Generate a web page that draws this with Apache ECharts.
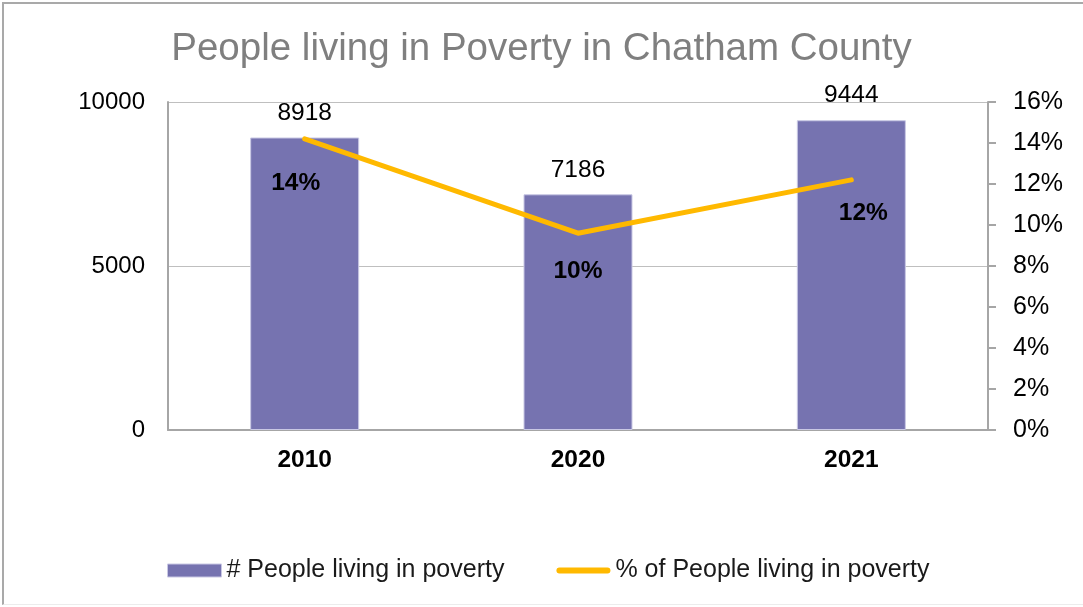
<!DOCTYPE html>
<html>
<head>
<meta charset="utf-8">
<script src="https://cdn.jsdelivr.net/npm/echarts@6/dist/echarts.min.js"></script>
<style>
  html, body { margin: 0; padding: 0; background: #fff; }
  #frame {
    position: absolute; left: 2px; top: 2px; width: 1081px; height: 603px;
    border-top: 2px solid #a9a9a9; border-left: 2px solid #a9a9a9;
    border-bottom: 1px solid #ececec; box-sizing: border-box;
  }
  #chart { position: absolute; left: 0; top: 0; width: 1083px; height: 607px; }
</style>
</head>
<body>
<div id="frame"></div>
<div id="chart"></div>
<script>
// Chatham County poverty figures
const years = ['2010', '2020', '2021'];
const peopleInPoverty = [8918, 7186, 9444];
const povertyRate = [0.142, 0.096, 0.122];
const countTicks = [0, 5000, 10000];
const rateTicks = [0, 0.02, 0.04, 0.06, 0.08, 0.10, 0.12, 0.14, 0.16];

const FONT = 'Liberation Sans, Arial, sans-serif';
const rateLabelOffsets = [[-9, 6], [0, 0], [12, -5]];

const chart = echarts.init(document.getElementById('chart'), null, { renderer: 'canvas' });

chart.setOption({
  animation: false,
  backgroundColor: 'transparent',
  textStyle: { fontFamily: FONT },
  title: {
    text: 'People living in Poverty in Chatham County',
    left: 'center',
    top: 25,
    textStyle: { fontFamily: FONT, fontSize: 38.5, fontWeight: 'normal', color: '#7f7f7f' }
  },
  grid: { left: 168, right: 95, top: 102, bottom: 177 },
  legend: {
    bottom: 19,
    left: 162,
    itemGap: 52,
    itemWidth: 54,
    itemHeight: 13,
    textStyle: { fontFamily: FONT, fontSize: 25, color: '#1a1a1a' },
    data: [
      { name: '# People living in poverty', icon: 'rect', itemStyle: { color: '#7673b0', borderColor: '#c9c8e4', borderWidth: 1 } },
      { name: '% of People living in poverty', icon: 'path://M3,4 L51,4 A3,3 0 0 1 51,10 L3,10 A3,3 0 0 1 3,4 Z' }
    ]
  },
  xAxis: {
    type: 'category',
    data: years,
    axisLine: { show: true, lineStyle: { color: '#a6a6a6', width: 2 } },
    axisTick: { show: false },
    axisLabel: { fontFamily: FONT, fontSize: 24.5, fontWeight: 'bold', color: '#000', margin: 18 }
  },
  yAxis: [
    {
      type: 'value',
      min: countTicks[0],
      max: countTicks[countTicks.length - 1],
      interval: countTicks[1] - countTicks[0],
      axisLine: { show: true, lineStyle: { color: '#a6a6a6', width: 2 } },
      axisTick: { show: false },
      splitLine: { show: true, lineStyle: { color: '#bfbfbf', width: 1 } },
      axisLabel: {
        fontFamily: FONT, fontSize: 24, color: '#000', margin: 23,
        formatter: v => String(v)
      }
    },
    {
      type: 'value',
      min: rateTicks[0],
      max: rateTicks[rateTicks.length - 1],
      interval: rateTicks[1] - rateTicks[0],
      position: 'right',
      axisLine: { show: true, lineStyle: { color: '#a6a6a6', width: 2 } },
      axisTick: { show: true, length: 8, lineStyle: { color: '#a6a6a6', width: 2 } },
      splitLine: { show: false },
      axisLabel: {
        fontFamily: FONT, fontSize: 25, color: '#000', margin: 25,
        formatter: v => Math.round(v * 100) + '%'
      }
    }
  ],
  series: [
    {
      name: '# People living in poverty',
      type: 'bar',
      yAxisIndex: 0,
      data: peopleInPoverty,
      barWidth: 109,
      itemStyle: { color: '#7673b0', borderColor: '#c9c8e4', borderWidth: 1 },
      label: {
        show: true, position: 'top', distance: 12,
        fontFamily: FONT, fontSize: 24.5, color: '#000'
      },
      z: 2
    },
    {
      name: '% of People living in poverty',
      type: 'line',
      yAxisIndex: 1,
      data: povertyRate.map((v, i) => ({
        value: v,
        label: { offset: rateLabelOffsets[i] }
      })),
      symbol: 'circle',
      symbolSize: 1,
      showSymbol: true,
      lineStyle: { color: '#ffb900', width: 5, cap: 'round', join: 'round' },
      itemStyle: { color: '#ffb900' },
      label: {
        show: true, position: 'bottom', distance: 25,
        fontFamily: FONT, fontSize: 24.5, fontWeight: 'bold', color: '#000',
        formatter: p => Math.round(p.value * 100) + '%'
      },
      z: 3
    }
  ]
});
</script>
</body>
</html>
